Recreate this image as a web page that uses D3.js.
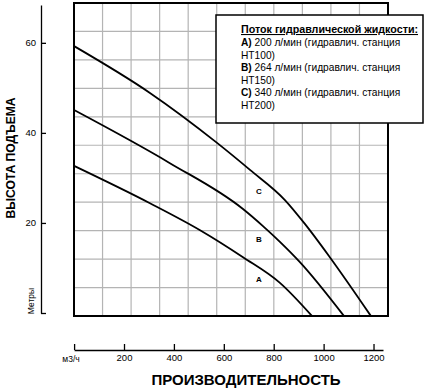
<!DOCTYPE html>
<html>
<head>
<meta charset="utf-8">
<script src="https://cdn.jsdelivr.net/npm/d3@7"></script>
<style>
	body { margin: 0; background: #fff; }
	svg { font-family: 'Liberation Sans', Arial, sans-serif; }
</style>
</head>
<body>
<div id="chart"></div>
<script>
// flow, m3/h  /  head, m
const flowA = [0, 304, 505, 677, 825, 954];
const headA = [32.7, 24.4, 18.4, 12.4, 6.7, -0.7];
const flowB = [0, 384, 677, 757, 825, 905, 1082];
const headB = [45.1, 33.3, 23.1, 19.3, 15.8, 11.3, -0.7];
const flowC = [0, 304, 573, 705, 845, 925, 1025, 1190];
const headC = [59.3, 48.9, 37.8, 31.8, 25.1, 19.8, 12.4, -0.7];

const curveNames = ['A', 'B', 'C'];
const labelFlow = [741, 741, 741];
const labelHead = [7.6, 16.4, 27.1];

const xTicks = [0, 200, 400, 600, 800, 1000, 1200];
const yTicks = [0, 20, 40, 60];

const legendTitle = 'Поток гидравлической жидкости:';
const legendLines = [
	['A)', ' 200 л/мин (гидравлич. станция'],
	['', 'HT100)'],
	['B)', ' 264 л/мин (гидравлич. станция'],
	['', 'HT150)'],
	['C)', ' 340 л/мин (гидравлич. станция'],
	['', 'HT200)']
];

const width = 433, height = 388;
const frame = {left: 74, right: 388, top: 3, bottom: 316};

const x = d3.scaleLinear().domain([0, 1200]).range([74.1, 373.5]);
const y = d3.scaleLinear().domain([0, 60]).range([313, 43]);

const svg = d3.select('#chart').append('svg')
	.attr('width', width)
	.attr('height', height);

// shrink a text until it is no wider than w
const fitText = (sel, w) => {
	let size = parseFloat(sel.attr('font-size'));
	while (sel.node().getComputedTextLength() > w && size > 6) {
		size -= 0.1;
		sel.attr('font-size', size);
	}
}

// background grid (11 x 11, decorative, not tied to the axes)
const gx = d3.scaleLinear().domain([0, 11]).range([frame.left, frame.right]);
const gy = d3.scaleLinear().domain([0, 11]).range([frame.bottom, frame.top]);
svg.append('g')
	.selectAll('line')
	.data(d3.range(1, 11))
	.enter().append('line')
	.attr('x1', d => gx(d)).attr('x2', d => gx(d))
	.attr('y1', frame.top).attr('y2', frame.bottom)
	.attr('stroke', '#b4b4b4').attr('stroke-width', 1.2);
svg.append('g')
	.selectAll('line')
	.data(d3.range(1, 11))
	.enter().append('line')
	.attr('y1', d => gy(d)).attr('y2', d => gy(d))
	.attr('x1', frame.left).attr('x2', frame.right)
	.attr('stroke', '#b4b4b4').attr('stroke-width', 1.2);

svg.append('rect')
	.attr('x', frame.left).attr('y', frame.top)
	.attr('width', frame.right - frame.left)
	.attr('height', frame.bottom - frame.top)
	.attr('fill', 'none')
	.attr('stroke', '#000')
	.attr('stroke-width', 2);

// curves
const series = [
	{flow: flowA, head: headA},
	{flow: flowB, head: headB},
	{flow: flowC, head: headC}
];
const line = d3.line()
	.x(d => x(d[0]))
	.y(d => y(d[1]))
	.curve(d3.curveMonotoneX);

svg.append('g')
	.selectAll('path')
	.data(series)
	.enter().append('path')
	.attr('d', s => line(s.flow.map((f, i) => [f, s.head[i]])))
	.attr('fill', 'none')
	.attr('stroke', '#000')
	.attr('stroke-width', 1.8);

svg.append('g')
	.selectAll('text')
	.data(curveNames)
	.enter().append('text')
	.attr('x', (d, i) => x(labelFlow[i]))
	.attr('y', (d, i) => y(labelHead[i]) + 3)
	.attr('text-anchor', 'middle')
	.attr('font-size', 8)
	.attr('font-weight', 'bold')
	.text(d => d);

// left axis
const yAxis = d3.axisLeft(y.copy().domain([0, 68.4]).range([313, 5]))
	.tickValues(yTicks)
	.tickFormat(d => d === 0 ? '' : d)
	.tickSizeInner(-5)
	.tickSizeOuter(0)
	.tickPadding(5);
const ya = svg.append('g')
	.attr('transform', 'translate(41,0)')
	.call(yAxis);
ya.selectAll('path, line').attr('stroke', '#000').attr('stroke-width', 1.3);
ya.selectAll('text').attr('font-size', 9.5).attr('font-family', 'Liberation Sans, Arial, sans-serif');

// bottom axis
const xAxis = d3.axisBottom(x.copy().domain([0, 1238]).range([74.1, 383]))
	.tickValues(xTicks)
	.tickFormat(d => d === 0 ? '' : d)
	.tickSizeInner(-6)
	.tickSizeOuter(0)
	.tickPadding(4);
const xa = svg.append('g')
	.attr('transform', 'translate(0,350)')
	.call(xAxis);
xa.selectAll('path, line').attr('stroke', '#000').attr('stroke-width', 1.3);
xa.selectAll('text').attr('font-size', 9.5).attr('font-family', 'Liberation Sans, Arial, sans-serif');

svg.append('text')
	.attr('x', 71).attr('y', 362)
	.attr('text-anchor', 'middle')
	.attr('font-size', 8.5)
	.text('м3/ч');

svg.append('text')
	.attr('transform', 'translate(34,301) rotate(-90)')
	.attr('text-anchor', 'middle')
	.attr('font-size', 8.5)
	.text('Метры');

const yTitle = svg.append('text')
	.attr('transform', 'translate(15,158) rotate(-90)')
	.attr('text-anchor', 'middle')
	.attr('font-size', 14)
	.attr('font-weight', 'bold')
	.text('ВЫСОТА ПОДЪЕМА');
fitText(yTitle, 122);

const xTitle = svg.append('text')
	.attr('x', 246).attr('y', 385)
	.attr('text-anchor', 'middle')
	.attr('font-size', 15)
	.attr('font-weight', 'bold')
	.text('ПРОИЗВОДИТЕЛЬНОСТЬ');
fitText(xTitle, 198);

// legend
svg.append('rect')
	.attr('x', 216).attr('y', 15)
	.attr('width', 207).attr('height', 108)
	.attr('fill', '#fff')
	.attr('stroke', '#000')
	.attr('stroke-width', 1.5);

const title = svg.append('text')
	.attr('x', 241).attr('y', 33)
	.attr('font-size', 11)
	.attr('font-weight', 'bold')
	.attr('text-decoration', 'underline')
	.text(legendTitle);
fitText(title, 178);

const legendText = svg.append('g')
	.selectAll('text')
	.data(legendLines)
	.enter().append('text')
	.attr('x', 241)
	.attr('y', (d, i) => 46 + i * 12.5)
	.attr('font-size', 10.2);
legendText.append('tspan').attr('font-weight', 'bold').text(d => d[0]);
legendText.append('tspan').text(d => d[1]);
</script>
</body>
</html>
